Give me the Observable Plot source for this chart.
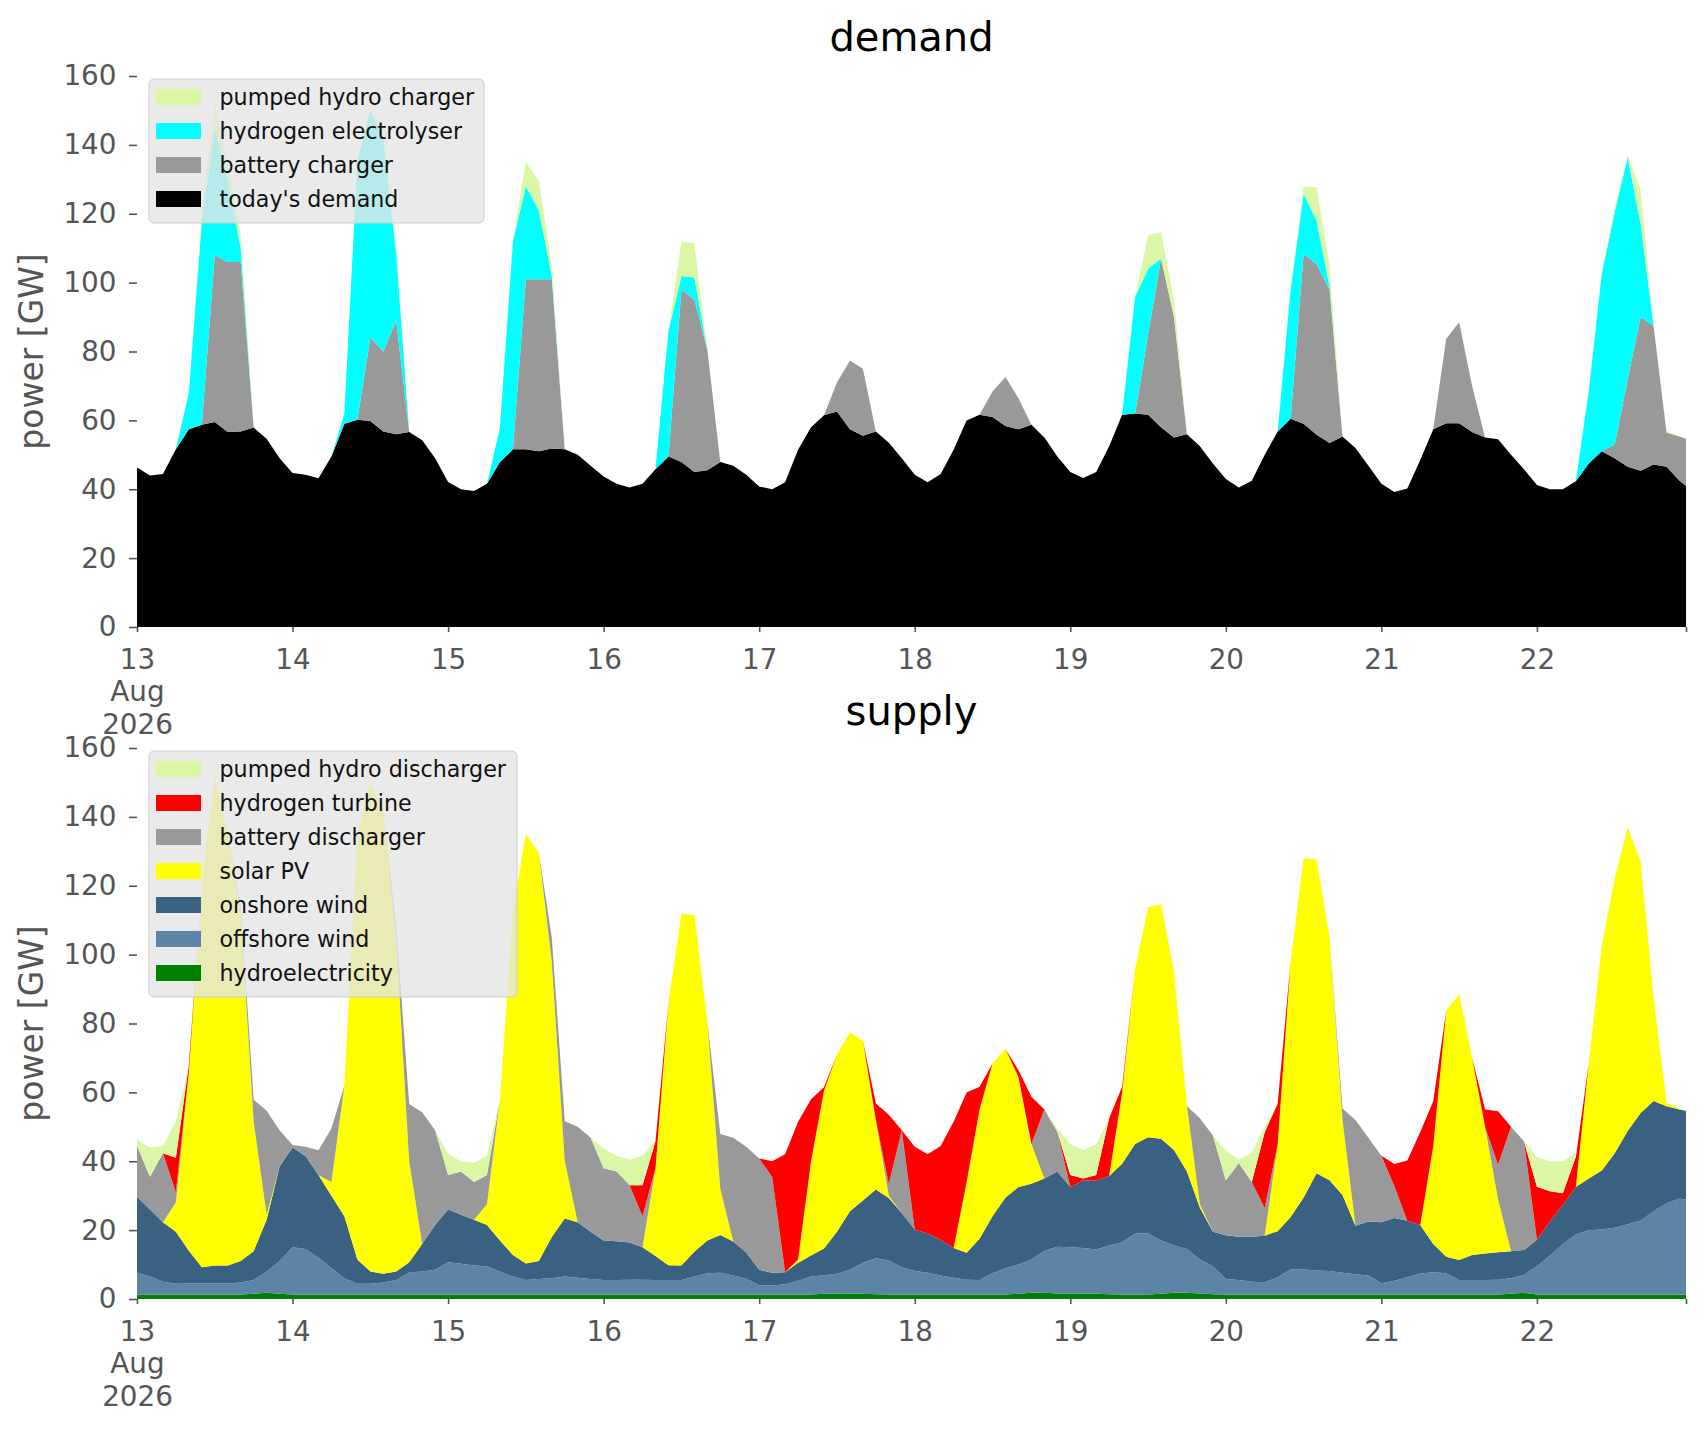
<!DOCTYPE html>
<html><head><meta charset="utf-8">
<script src="https://cdn.jsdelivr.net/npm/d3@7"></script>
<script src="https://cdn.jsdelivr.net/npm/@observablehq/plot@0.6"></script>
<style>
html,body{margin:0;padding:0;background:#fff;overflow:hidden;}
#wrap{position:relative;width:1706px;height:1431px;font-family:"DejaVu Sans",sans-serif;}
.panel{position:absolute;left:0;}
</style></head>
<body><div id="wrap"><div id="top" class="panel" style="top:0px"></div><div id="bot" class="panel" style="top:690px"></div></div>
<script>
// ---- time axis: 2-hourly points 13 Aug 2026 00:00 .. 22 Aug 22:00, plus final 22 Aug 23:00
const start = Date.UTC(2026, 7, 13);
const times = d3.range(120).map(i => new Date(start + i * 2 * 3600e3)).concat([new Date(Date.UTC(2026, 7, 22, 23))]);
const xTicks = d3.range(13, 23).map(d => new Date(Date.UTC(2026, 7, d))).concat([new Date(Date.UTC(2026, 7, 22, 23))]);
const yTicks = [0, 20, 40, 60, 80, 100, 120, 140, 160];

// ---- demand (GW)
const demandToday = [
46.3,44,44.4,51.6,57.4,58.7,59.5,56.6,56.8,57.9,54.7,49,
44.7,44.2,43.2,49.5,59,60.2,59.8,56.8,56,56.6,54.2,49,
42.1,40,39.5,41.6,47.9,51.6,51.6,51,51.8,51.6,50,46.8,
43.7,41.6,40.5,41.6,45.8,49.5,47.9,45,45.5,47.9,46.8,44.2,
40.8,40,42,51.5,58,61.5,62.6,57.4,55.5,56.8,53.5,49,
44.2,42,44.4,51.5,60,61.6,61,58.4,57.4,58.7,55,49.5,
45,43.3,45,52.5,61.6,62,61.6,58,55,56,52.5,47.5,
43,40.5,42.5,50,56.8,60.5,59,55.8,53.4,55.3,52,46.8,
41.6,39.2,40.2,48.5,57.4,59.2,59.2,56.6,55,54.5,50,45.8,
41.2,40,40,42.3,47.5,51,49,46.5,45.4,47.2,46.5,42.5,
41];
const batteryCharger = [
0,0,0,0,0,0,48.5,49.4,49.2,0,0,0,
0,0,0,0,0,0,24.2,23.2,33,0,0,0,
0,0,0,0,0,0,49.4,50,49.2,0,0,0,
0,0,0,0,0,0,50,50,35,0,0,0,
0,0,0,0,0,0,8.4,20,19.5,0,0,0,
0,0,0,0,0,0,7.4,14.2,9,0,0,0,
0,0,0,0,0,0,23.4,49,35,0,0,0,
0,0,0,0,0,0,49.4,49.5,44.6,0,0,0,
0,0,0,0,0,24.5,29.3,13.4,0,0,0,0,
0,0,0,0,0,0,4,25.5,44.6,40.2,10,12.8,
13.7];
const hydrogenElectrolyser = [
0,0,0,0,10.6,59.3,37,24,4,0,0,0,
0,0,0,0,3,75,66,62,19,0,0,0,
0,0,0,0,10,60.4,27,20,1,0,0,0,
0,0,0,0,0,36.5,4,6.5,0,0,0,0,
0,0,0,0,0,0,0,0,0,0,0,0,
0,0,0,0,0,0,0,0,0,0,0,0,
0,0,0,0,0,33.8,19,0,0,0,0,0,
0,0,0,0,0,37.5,17.4,12.7,1,0,0,0,
0,0,0,0,0,0,0,0,0,0,0,0,
0,0,0,0,21,51.6,67.4,64.5,27,0,0,0,
0];
const pumpedHydroCharger = [
0,0,0,0,0,2,7,5,4,0,0,0,
0,0,0,0,0,0,0,0,0,0,0,0,
0,0,0,0,0,0.5,7,8.5,3,0,0,0,
0,0,0,0,0,0,10,10,0,0,0,0,
0,0,0,0,0,0,0,0,0,0,0,0,
0,0,0,0,0,0,0,0,0,0,0,0,
0,0,0,0,0,0,9.7,7.7,5,0,0,0,
0,0,0,0,0,0,2.2,9.6,6,0,0,0,
0,0,0,0,0,0,0,0,0,0,0,0,
0,0,0,0,0,0,1.6,0.5,10,0,0.5,0,
0];

// ---- supply (GW)
const hydroelectricity = [
1.3,1.3,1.3,1.3,1.3,1.3,1.3,1.3,1.3,1.5,1.8,1.5,
1.3,1.3,1.3,1.3,1.3,1.3,1.3,1.3,1.3,1.3,1.3,1.3,
1.3,1.3,1.3,1.3,1.3,1.3,1.3,1.3,1.3,1.3,1.3,1.3,
1.3,1.3,1.3,1.3,1.3,1.3,1.3,1.3,1.3,1.3,1.3,1.3,
1.3,1.3,1.3,1.3,1.3,1.5,1.6,1.6,1.5,1.4,1.3,1.3,
1.3,1.3,1.3,1.3,1.3,1.3,1.3,1.3,1.5,1.8,1.8,1.6,
1.6,1.6,1.5,1.4,1.3,1.3,1.3,1.5,1.8,1.8,1.6,1.4,
1.3,1.3,1.3,1.3,1.3,1.3,1.3,1.3,1.3,1.3,1.3,1.3,
1.3,1.3,1.3,1.3,1.3,1.3,1.3,1.3,1.3,1.3,1.5,1.8,
1.3,1.3,1.3,1.3,1.3,1.3,1.3,1.3,1.3,1.3,1.3,1.3,
1.3];
const offshoreWind = [
6.3,5.2,3.7,3.1,3.2,3.2,3.2,3.2,3.5,4,6.2,9.5,
13.7,13.2,10.7,7.7,4.7,3.1,3.1,3.5,4.2,6.5,6.7,7.2,
9.4,8.9,8.4,8.2,6.7,5.2,4.2,4.5,4.7,5.2,4.9,4.5,
4.2,4.2,4.3,4.3,4.2,4.2,4.2,5.2,6.2,6.3,5.5,4.6,
2.7,2.6,3,3.9,5.2,5.4,5.7,6.9,9,10.4,9.9,7.9,
6.8,6.3,5.5,4.9,4.3,4.2,6.2,7.6,8.5,9.7,12.2,13.6,
13.4,13.2,12.9,14.1,15.2,17.7,17.7,15.5,13.7,12.7,9.9,8.1,
4.5,4.2,3.7,3.6,5,7.3,7.3,7,6.8,6.3,5.9,5.5,
3.3,4,5,6.1,6.5,6.2,4.2,4.2,4.2,4.3,4.5,5.2,
8.2,11.3,14.7,17.4,18.7,18.9,19.4,20.4,21.4,24.2,26.5,27.9,
27.5];
const onshoreWind = [
22.1,19.5,17.3,15.1,9.5,4.7,5.2,5.2,6.2,8.4,15,27.5,
29,27,24,21,18,7.1,3.6,2.5,2.5,2.9,8,13,
15.3,14.3,13.3,12,9,6.3,4.8,5.2,12,16.9,16.1,13.7,
11.5,11.3,10.8,9.4,7,4.3,4.2,7.2,9.5,11,9.9,7.6,
4.5,3.7,3.5,5.3,6.1,7.8,12.2,17,18.1,20,18.1,15.8,
12.1,11.4,10.4,8.6,7.8,12,16.5,20.6,22.5,22,21,21.8,
17.5,19.6,20,20.2,22.8,26,28,29.5,27.8,22.5,15,10,
12.7,12.6,13.1,13.5,13.4,15.2,20.9,28.2,26.4,22.6,14.1,15.7,
17.7,18.2,16.4,14.1,8.2,4.8,5.8,7.3,7.7,8,7.9,7.2,
7.7,9.9,11.3,13.8,15,17.1,21.6,27.1,31.3,32,28.2,25.8,
25.9];
const solarPV = [
0,0,0,8.5,52,110.8,142.3,125.3,101,37.6,1.5,0,
0,0,0,4,38,123.7,142,134.7,96,29.3,0,0,
0,0,0,6,40.9,99.7,124.7,118.5,80,16.6,0,0,
0,0,0,0,25.5,76.2,102.2,97.8,63.5,13.4,0,0,
0,0,0,1,27.4,45.8,51.5,51.9,46.4,20.2,0.7,0,
0,0,0,0,20.5,37.5,44.4,43.1,32,11.5,0,0,
0,0,0,0,20.7,50.8,66.7,68.2,51.7,19,1,0,
0,0,0,0,25.3,74.2,98.5,91.1,70.5,21.8,0,0,
0,0,0,0,28.4,71.4,77.2,57.2,36.8,15.4,0,0,
0,0,0,0,33.5,65.3,79.7,88.2,73,29.9,1,0.3,
0];
const batteryDischarger = [
14.8,9.5,20,3,0,0,0,0,2,6.4,30.2,10.5,
0.7,2.7,7.2,15.5,0,0,0,0,4,16.6,38.2,27.5,
10,12.5,11,8.5,0,0,0,0,7,11.6,27.7,27.3,
21,20.2,16.6,9,0,0,0,0,0,15.9,30.1,30.7,
32.3,27.9,0,0,0,0,0,0,0,0,3.5,24,
0,0,0,0,0,0,0,0,0,0,20,11.6,
0,0,0,0,0,0,0,0,0,0,25,28,
16,21.4,15.9,8,0,0,0,0,0,3.3,30.7,24.3,
19.3,9.3,0,0,0,0,0,0,0,10,36.1,31.6,
0,0,0,0,0,0,0,0,0,0,0,0,
0];
const hydrogenTurbine = [
0,0,0,10,2,0,0,0,0,0,0,0,
0,0,0,0,0,0,0,0,0,0,0,0,
0,0,0,0,0,0,0,0,0,0,0,0,
0,0,0,9,7.8,0,0,0,0,0,0,0,
0,4.5,34.2,40,18,1,0,0,0,4.8,20,0,
24,23,27.2,36.7,26.1,6.6,0,0,1.9,13.7,0,0,
3.5,0.6,1.6,16.8,1.6,0,0,0,0,0,0,0,
0,0,0,22,11.8,0,0,0,0,0,0,0,
0,6.4,17.5,27,13,0,0,0,5,15.5,0,0,
15.4,8.8,3.4,8.8,0,0,0,0,0,0,0,0,
0];
const pumpedHydroDischarger = [
1.8,8.5,2.1,10.6,0,0,0,0,0,0,0,0,
0,0,0,0,0,0,0,0,0,0,0,0,
6.1,3,5.5,5.6,0,0,0,0,0,0,0,0,
5.7,4.6,7.5,8.6,0,0,0,0,0,0,0,0,
0,0,0,0,0,0,0,0,0,0,0,0,
0,0,0,0,0,0,0,0,0,0,0,0.9,
9,8.3,9,0,0,0,0,0,0,0,0,0,
8.5,1,8.5,1.6,0,0,0,0,0,0,0,0,
0,0,0,0,0,0,0,0,0,0,0,0,
8.6,8.7,9.3,1,0,0,0,0,0,0,0,0,
0];

// stacking order: bottom -> top
const demandSeries = [
  {name: "today's demand", values: demandToday, color: "#000000"},
  {name: "battery charger", values: batteryCharger, color: "#999999"},
  {name: "hydrogen electrolyser", values: hydrogenElectrolyser, color: "#00ffff"},
  {name: "pumped hydro charger", values: pumpedHydroCharger, color: "#daf7a6"}
];
const supplySeries = [
  {name: "hydroelectricity", values: hydroelectricity, color: "#008000"},
  {name: "offshore wind", values: offshoreWind, color: "#5d84a6"},
  {name: "onshore wind", values: onshoreWind, color: "#3b6182"},
  {name: "solar PV", values: solarPV, color: "#ffff00"},
  {name: "battery discharger", values: batteryDischarger, color: "#999999"},
  {name: "hydrogen turbine", values: hydrogenTurbine, color: "#ff0000"},
  {name: "pumped hydro discharger", values: pumpedHydroDischarger, color: "#daf7a6"}
];

function tidy(series) {
  const out = [];
  for (const s of series) s.values.forEach((v, i) => out.push({t: times[i], v, s: s.name}));
  return out;
}
const fmtX = d => {
  if (d.getUTCHours() === 23) return "";
  const day = d.getUTCDate();
  return day === 13 ? "13\nAug\n2026" : String(day);
};

function chart(series, opts) {
  const names = series.map(s => s.name);
  const svg = Plot.plot({
    width: 1706, height: opts.height,
    marginTop: opts.marginTop, marginBottom: opts.marginBottom, marginLeft: 137, marginRight: 20,
    style: {background: "transparent", fontFamily: "DejaVu Sans", color: "#555555", overflow: "visible"},
    x: {type: "utc", domain: [times[0], times[times.length - 1]]},
    y: {domain: [0, 160]},
    color: {domain: names, range: series.map(s => s.color)},
    marks: [
      Plot.areaY(tidy(series), {x: "t", y: "v", z: "s", fill: "s", order: names, curve: "linear"}),
      Plot.axisY(yTicks, {anchor: "left", tickSize: 8, tickPadding: 13, fontSize: 27.8, label: null, strokeWidth: 1.6}),
      Plot.axisX(xTicks, {anchor: "bottom", tickSize: 5, tickPadding: 13, fontSize: 27.8, label: null, tickFormat: fmtX, lineHeight: 1.17, strokeWidth: 1.6})
    ]
  });
  const g = d3.select(svg);
  // title
  g.append("text").attr("x", 911.5).attr("y", opts.titleY).attr("text-anchor", "middle")
    .attr("font-family", "DejaVu Sans").attr("font-size", 40).attr("fill", "#000").text(opts.title);
  // y label
  const cy = opts.marginTop + (opts.height - opts.marginTop - opts.marginBottom) / 2;
  g.append("text").attr("transform", `translate(43,${cy}) rotate(-90)`).attr("text-anchor", "middle")
    .attr("font-family", "DejaVu Sans").attr("font-size", 33).attr("fill", "#555555").text("power [GW]");
  // legend (top entry = top of stack)
  const entries = series.slice().reverse();
  const top = opts.marginTop + 3, rowH = 34;
  const lg = g.append("g");
  lg.append("rect").attr("x", 149).attr("y", top).attr("width", opts.legendW)
    .attr("height", 36 + rowH * (entries.length - 1) + 6).attr("rx", 5)
    .attr("fill", "#e5e5e5").attr("fill-opacity", 0.8).attr("stroke", "#cccccc").attr("stroke-width", 1);
  entries.forEach((e, i) => {
    const yc = top + 18 + rowH * i;
    lg.append("rect").attr("x", 156).attr("y", yc - 8).attr("width", 45).attr("height", 16).attr("fill", e.color);
    lg.append("text").attr("x", 219.5).attr("y", yc).attr("dy", "0.35em").attr("text-anchor", "start")
      .attr("font-family", "DejaVu Sans").attr("font-size", 22.2).attr("fill", "#111").text(e.name);
  });
  return svg;
}

document.getElementById("top").appendChild(
  chart(demandSeries, {height: 760, marginTop: 76, marginBottom: 133, title: "demand", titleY: 51, legendW: 335}));
document.getElementById("bot").appendChild(
  chart(supplySeries, {height: 741, marginTop: 58, marginBottom: 132, title: "supply", titleY: 35, legendW: 368}));
</script></body></html>
